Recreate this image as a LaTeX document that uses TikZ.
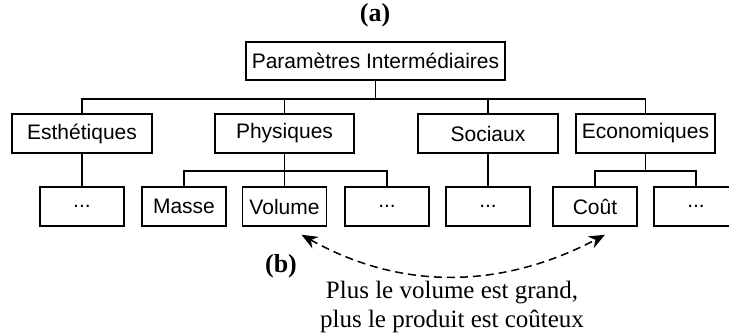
\documentclass[tikz,border=0pt]{standalone}
\usepackage{fontspec}
\setmainfont{Liberation Serif}
\setsansfont{Liberation Sans}
\usetikzlibrary{arrows.meta}
\tikzset{
  box/.style={draw, line width=1.5pt, inner sep=0pt, minimum height=39pt,
    font=\sffamily\fontsize{21}{24}\selectfont},
  wide/.style={box, minimum width=140pt},
  small/.style={box, minimum width=84pt},
  conn/.style={line width=1.5pt},
  caption/.style={font=\fontsize{25}{29}\selectfont, align=center},
  tag/.style={font=\bfseries\fontsize{26}{30}\selectfont}
}
\begin{document}
\begin{tikzpicture}[x=1pt, y=-1pt]
\useasboundingbox (0,0) rectangle (729,335);
\clip (0,0) rectangle (729,335);

\node[tag] (ta) at (375,15) {(a)};

\node[box, minimum width=259pt, minimum height=38pt] (top) at (375.5,61) {Paramètres Intermédiaires};

\node[wide] (esth) at (82,133.5) {Esthétiques};
\node[wide, minimum width=139pt] (phys) at (284.5,133.5) {Physiques};
\node[wide] (soc) at (488,133.5) {Sociaux};
\node[wide, minimum width=139pt] (eco) at (645.5,133.5) {Economiques};

\node[small] (d1) at (82,206.5) {...};
\node[small] (masse) at (184,206.5) {Masse};
\node[small] (vol) at (284.5,206.5) {Volume};
\node[small] (d2) at (387,206.5) {...};
\node[small] (d3) at (488,206.5) {...};
\node[small] (cout) at (595,206.5) {Coût};
\node[small] (d4) at (696,206.5) {...};

\draw[conn] (top.south) -- ++(0,18) -| (esth.north);
\draw[conn] (top.south) -- ++(0,18) -| (phys.north);
\draw[conn] (top.south) -- ++(0,18) -| (soc.north);
\draw[conn] (top.south) -- ++(0,18) -| (eco.north);

\draw[conn] (esth.south) -- (d1.north);
\draw[conn] (soc.south) -- (d3.north);
\draw[conn] (phys.south) -- (vol.north);
\draw[conn] (phys.south) -- ++(0,17) -| (masse.north);
\draw[conn] (phys.south) -- ++(0,17) -| (d2.north);
\draw[conn] (eco.south) -- ++(0,17) -| (cout.north);
\draw[conn] (eco.south) -- ++(0,17) -| (d4.north);

\coordinate (p1) at ([xshift=17pt,yshift=-8pt]vol.south);
\coordinate (p2) at ([xshift=10pt,yshift=-8pt]cout.south);
\draw[line width=1.5pt, dash pattern=on 8pt off 5pt,
  {Stealth[length=16pt,width=13pt]}-{Stealth[length=16pt,width=13pt]}]
  (p1) .. controls (400,290) and (500,290) .. (p2);

\node[tag] (tb) at (281,266) {(b)};
\node[caption] (cap) at (452,307) {Plus le volume est grand,\\plus le produit est coûteux};
\end{tikzpicture}
\end{document}
